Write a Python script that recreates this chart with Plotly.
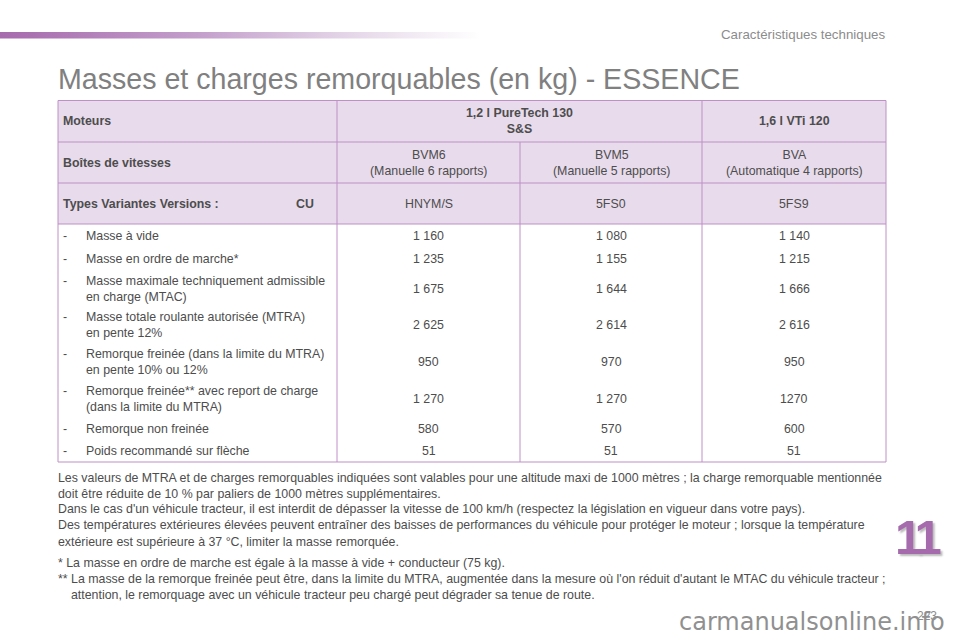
import plotly.graph_objects as go

FONT = "Liberation Sans"
PURPLE = "#a66bad"
LINE = "#c08fc8"
HEAD_BG = "#e8dbec"
TEXT = "#4d4d4d"

title = "Masses et charges remorquables (en kg) - ESSENCE"
section = "Caractéristiques techniques"
chapter = "11"
page_no = "223"
watermark = "carmanualsonline.info"

# header rows
head_labels = ["Moteurs", "Boîtes de vitesses", "Types Variantes Versions :"]
cu_label = "CU"
engines = ["1,2 l PureTech 130<br>S&S", "1,6 l VTi 120"]
gearboxes = ["BVM6<br>(Manuelle 6 rapports)", "BVM5<br>(Manuelle 5 rapports)", "BVA<br>(Automatique 4 rapports)"]
types = ["HNYM/S", "5FS0", "5FS9"]

# body rows
row_labels = [
    "Masse à vide",
    "Masse en ordre de marche*",
    "Masse maximale techniquement admissible<br>en charge (MTAC)",
    "Masse totale roulante autorisée (MTRA)<br>en pente 12%",
    "Remorque freinée (dans la limite du MTRA)<br>en pente 10% ou 12%",
    "Remorque freinée** avec report de charge<br>(dans la limite du MTRA)",
    "Remorque non freinée",
    "Poids recommandé sur flèche",
]
col_bvm6 = ["1 160", "1 235", "1 675", "2 625", "950", "1 270", "580", "51"]
col_bvm5 = ["1 080", "1 155", "1 644", "2 614", "970", "1 270", "570", "51"]
col_bva = ["1 140", "1 215", "1 666", "2 616", "950", "1270", "600", "51"]

notes = [
    "Les valeurs de MTRA et de charges remorquables indiquées sont valables pour une altitude maxi de 1000 mètres ; la charge remorquable mentionnée",
    "doit être réduite de 10 % par paliers de 1000 mètres supplémentaires.",
    "Dans le cas d'un véhicule tracteur, il est interdit de dépasser la vitesse de 100 km/h (respectez la législation en vigueur dans votre pays).",
    "Des températures extérieures élevées peuvent entraîner des baisses de performances du véhicule pour protéger le moteur ; lorsque la température",
    "extérieure est supérieure à 37 °C, limiter la masse remorquée.",
]
footnotes = [
    "* La masse en ordre de marche est égale à la masse à vide + conducteur (75 kg).",
    "** La masse de la remorque freinée peut être, dans la limite du MTRA, augmentée dans la mesure où l'on réduit d'autant le MTAC du véhicule tracteur ;",
    "attention, le remorquage avec un véhicule tracteur peu chargé peut dégrader sa tenue de route.",
]

# page layout, in pixels
col_x = [58, 337, 520, 702, 886]
head_y = [100.5, 142, 183, 224]
body_y = [224, 247, 270, 307, 343, 380, 417, 440, 462]
note_y = [478, 494, 509, 525, 542]
foot_y = [563, 579, 595]

fig = go.Figure()

# fading band at the top of the page
fig.add_trace(go.Scatter(
    x=[0, 480, 480, 0, 0], y=[32, 32, 38.5, 38.5, 32],
    mode="lines", line=dict(width=0), fill="toself",
    fillgradient=dict(type="horizontal", colorscale=[
        [0, "#a66bad"], [0.05, "#a96fb0"], [0.42, "#c4a0cc"], [0.7, "#e2d2e6"], [1, "#ffffff"]]),
    hoverinfo="skip", showlegend=False,
))


def text(x, y, s, size=12.36, color=TEXT, anchor="center", family=FONT, **kw):
    fig.add_annotation(x=x, y=y, text=s, showarrow=False, xanchor=anchor, yanchor="middle",
                       align="left" if anchor == "left" else anchor,
                       borderpad=0, borderwidth=0,
                       font=dict(family=family, size=size, color=color, **kw))


fig.add_shape(type="rect", x0=col_x[0], x1=col_x[4], y0=head_y[0], y1=head_y[3],
              fillcolor=HEAD_BG, line_width=0, layer="below")

# grid lines
for y in head_y + [body_y[-1]]:
    fig.add_shape(type="line", x0=col_x[0], x1=col_x[4], y0=y, y1=y, line=dict(color=LINE, width=1.2))
for x in [col_x[0], col_x[1], col_x[3], col_x[4]]:
    fig.add_shape(type="line", x0=x, x1=x, y0=head_y[0], y1=body_y[-1], line=dict(color=LINE, width=1))
fig.add_shape(type="line", x0=col_x[2], x1=col_x[2], y0=head_y[1], y1=body_y[-1], line=dict(color=LINE, width=1))

# header text
for i, label in enumerate(head_labels):
    text(63, (head_y[i] + head_y[i + 1]) / 2, "<b>" + label + "</b>", anchor="left")
text(314, (head_y[2] + head_y[3]) / 2, "<b>" + cu_label + "</b>", anchor="right")
text((col_x[1] + col_x[3]) / 2, (head_y[0] + head_y[1]) / 2, "<b>" + engines[0] + "</b>")
text((col_x[3] + col_x[4]) / 2, (head_y[0] + head_y[1]) / 2, "<b>" + engines[1] + "</b>")
for j in range(3):
    cx = (col_x[j + 1] + col_x[j + 2]) / 2
    text(cx, (head_y[1] + head_y[2]) / 2, gearboxes[j])
    text(cx, (head_y[2] + head_y[3]) / 2, types[j])

# body text
for i, label in enumerate(row_labels):
    cy = (body_y[i] + body_y[i + 1]) / 2
    # the dash sits on the first line of a two-line label
    text(63, cy - 8 if "<br>" in label else cy, "-", anchor="left")
    text(86, cy, label, anchor="left")
    for j, col in enumerate([col_bvm6, col_bvm5, col_bva]):
        text((col_x[j + 1] + col_x[j + 2]) / 2, cy, col[i])

# notes below the table
for y, line in zip(note_y, notes):
    text(58, y, line, anchor="left")
text(58, foot_y[0], footnotes[0], anchor="left")
text(58, foot_y[1], footnotes[1], anchor="left")
text(71, foot_y[2], footnotes[2], anchor="left")

# page furniture
text(58, 79, title, size=28.6, color="#808080", anchor="left")
text(885, 34, section, size=13.3, color="#8c8c8c", anchor="right")
text(916, 537, "<b>" + chapter + "</b>", size=49, color=PURPLE, shadow="2px 2px 2px #bbbbbb")
text(927, 616, page_no, size=12, color="#8c8c8c")
text(811.5, 622, watermark, size=24, color="#909090", family="DejaVu Sans")

fig.update_xaxes(range=[0, 960], visible=False, fixedrange=True)
fig.update_yaxes(range=[640, 0], visible=False, fixedrange=True)
fig.update_layout(width=960, height=640, margin=dict(l=0, r=0, t=0, b=0),
                  paper_bgcolor="white", plot_bgcolor="white", showlegend=False)

# the page body has a default margin that would push the figure 8px in;
# the chapter digits sit closer together than the font sets them
post = """
document.body.style.margin = '0';
document.querySelectorAll('.annotation-text').forEach(function (t) {
    if (t.textContent === '11') t.style.letterSpacing = '-5px';
});
"""
fig.write_html("out.html", config=dict(displayModeBar=False), post_script=post)
